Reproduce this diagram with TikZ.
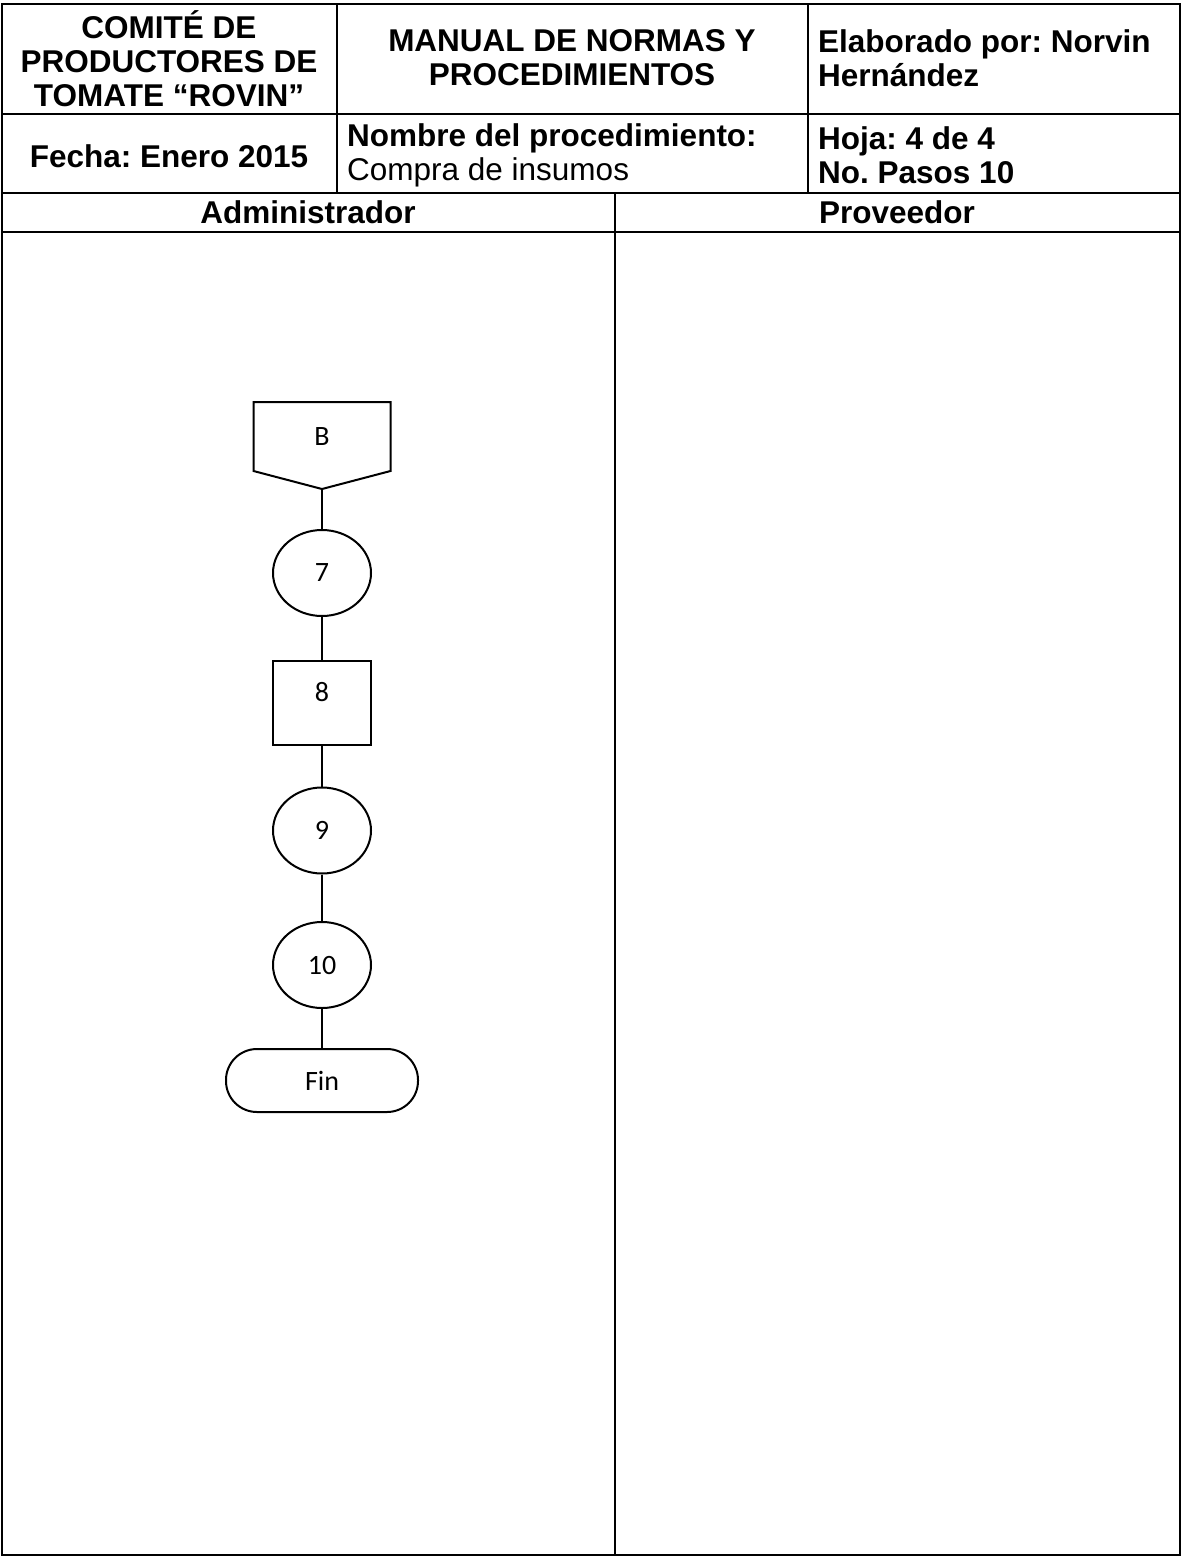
\documentclass[tikz,border=0pt]{standalone}
\usepackage{fontspec}
\setmainfont{Liberation Sans}
\newfontfamily\calibri{Carlito}
\usetikzlibrary{shapes.geometric, calc}
\frenchspacing

\begin{document}
\begin{tikzpicture}[
  x=1pt, y=-1pt,
  grid/.style={line width=2pt},
  head/.style={font=\fontsize{31.5}{34}\selectfont\bfseries, inner sep=0pt, align=center},
  headl/.style={head, align=left, anchor=west},
  flow/.style={line width=2pt, inner sep=0pt, font=\fontsize{28}{32}\selectfont\calibri},
  offpage/.style={flow, minimum width=135pt, minimum height=67pt},
  stepcirc/.style={flow, draw, ellipse, minimum width=98pt, minimum height=86pt},
  stepbox/.style={flow, draw, rectangle, minimum width=98pt, minimum height=84pt, text depth=22pt},
  term/.style={flow, draw, rectangle, rounded corners=31pt, minimum width=192pt, minimum height=63pt},
  link/.style={line width=2pt},
]
  \useasboundingbox (0,0) rectangle (1181,1558);

  % frame of the form
  \draw[grid] (1.5,4) rectangle (1179.5,1555);
  \draw[grid] (1.5,114) -- (1179.5,114);
  \draw[grid] (1.5,193) -- (1179.5,193);
  \draw[grid] (1.5,232) -- (1179.5,232);
  \draw[grid] (337,4) -- (337,193);
  \draw[grid] (808,4) -- (808,193);
  \draw[grid] (615,193) -- (615,1555);

  \node[head] (comite) at (169,59) {COMITÉ DE\\PRODUCTORES DE\\TOMATE “ROVIN”};
  \node[head] (manual) at (572,58) {MANUAL DE NORMAS Y\\PROCEDIMIENTOS};
  \node[headl] (elab) at (818,58) {Elaborado por: Norvin\\Hernández};
  \node[head] (fecha) at (169,156) {Fecha: Enero 2015};
  \node[headl] (nombre) at (347,155) {Nombre del procedimiento:\\{\mdseries Compra de insumos}};
  \node[headl] (hoja) at (818,155) {Hoja: 4 de 4\\No. Pasos 10};
  \node[head] (admin) at (308,212.5) {Administrador};
  \node[head] (prov) at (897,212.5) {Proveedor};

  % flow of the administrator
  \node[offpage] (nB) at (322,436.5) {B};
  \draw[link] (nB.north west) -- (nB.north east) -- (nB.south east)
    -- ($(nB.south)+(0,18)$) coordinate (Btip) -- (nB.south west) -- cycle;
  \node[stepcirc] (n7) at (322,573) {7};
  \node[stepbox] (n8) at (322,703) {8};
  \node[stepcirc] (n9) at (322,830.5) {9};
  \node[stepcirc] (n10) at (322,965) {10};
  \node[term] (fin) at (322,1080.5) {Fin};

  \draw[link] (Btip) -- (n7);
  \draw[link] (n7) -- (n8);
  \draw[link] (n8) -- (n9);
  \draw[link] (n9) -- (n10);
  \draw[link] (n10) -- (fin);
\end{tikzpicture}
\end{document}
